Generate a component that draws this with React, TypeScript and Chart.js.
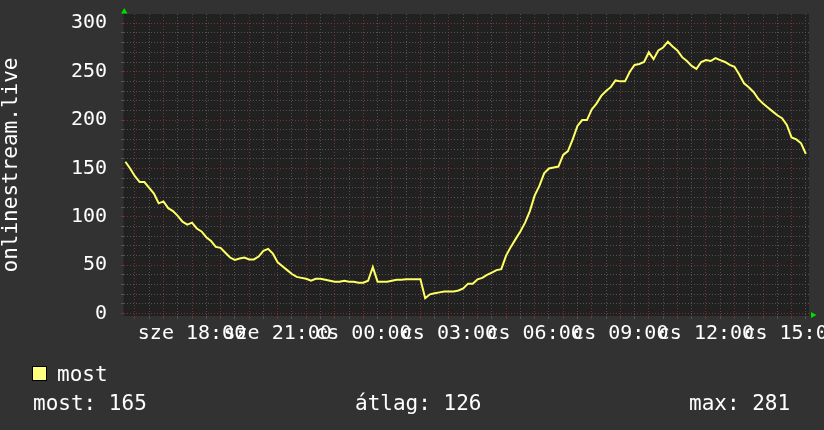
import React, { useEffect, useRef } from 'react';
import { Chart, registerables } from 'chart.js';

Chart.register(...registerables);

// --- data -------------------------------------------------------------
const SERIES_LABEL = 'most';
const Y_TITLE = 'onlinestream.live';
const START_HOUR = 15 + 40 / 60; // sze 15:40
const STEP_MINUTES = 10;

// viewers, one value every 10 minutes (sze 15:40 ... cs 15:30)
const viewers: number[] = [
  157, 150, 142, 136, 136, 130, 124, 114, // 15:40 - 16:50
  116, 109, 106, 101, 95, 92, // 17
  94, 88, 85, 79, 75, 69, // 18
  68, 63, 58, 55.5, 57, 58, // 19
  56, 56, 59, 65, 67, 62, // 20
  53, 49, 45, 41, 38, 37, // 21
  36, 34, 36, 36, 35, 34, // 22
  33, 33, 34, 33, 33, 32, // 23
  32, 34, 48, 33, 33, 33, // 00
  34, 35, 35, 35.5, 35.5, 35.5, // 01
  35.5, 16, 20, 21, 22, 23, // 02
  23, 23, 24, 26, 31, 31, // 03
  35.5, 37, 40, 42.5, 45, 46, // 04
  60, 69, 77, 85, 94, 106, // 05
  122, 132, 145, 150, 151, 152, // 06
  164, 168, 180, 194, 200, 200, // 07
  211, 217, 225, 230, 234, 241, // 08
  240, 240, 250, 257, 258, 260, // 09
  270, 263, 272, 275, 281, 276, // 10
  272, 265, 261, 256, 253, 260, // 11
  262, 261, 264, 262, 260, 257, // 12
  255, 247, 238, 234, 229, 222, // 13
  217, 213, 209, 205, 202, 195, // 14
  182, 180, 176, 165, // 15:00 - 15:30
];

const xTickHours = [18, 21, 24, 27, 30, 33, 36, 39];
const xTickLabels = ['sze 18:00', 'sze 21:00', 'cs 00:00', 'cs 03:00', 'cs 06:00', 'cs 09:00', 'cs 12:00', 'cs 15:00'];
const yTickValues = [0, 50, 100, 150, 200, 250, 300];

const summaryLabels = ['most', 'átlag', 'max'];
const summaryValues = [165, 126, 281];

// axis window
const X_MIN = 15.618;
const X_MAX = 39.61;
const Y_MIN = -2.4;
const Y_MAX = 309.6;

const FONT = 'DejaVu Sans Mono';
const GRID_MINOR = 'rgba(82,82,82,1)';
const GRID_MAJOR = 'rgba(118,52,52,1)';

export default function App() {
  const ref = useRef<HTMLCanvasElement>(null);

  useEffect(() => {
    const canvas = ref.current!;
    const data = viewers.map((v, i) => ({ x: START_HOUR + (i * STEP_MINUTES) / 60, y: v }));

    const rrdPlugin = {
      id: 'rrdDecor',
      beforeDraw(chart: any) {
        const { ctx, chartArea: a } = chart;
        ctx.save();
        ctx.fillStyle = '#323232';
        ctx.fillRect(0, 0, chart.width, chart.height);
        ctx.fillStyle = '#212121';
        ctx.fillRect(a.left, a.top, a.right - a.left, a.bottom - a.top);
        ctx.fillStyle = '#2a2a2a';
        ctx.fillRect(a.left - 1, a.top, 1, a.bottom - a.top);
        ctx.restore();
      },
      afterDraw(chart: any) {
        const { ctx, chartArea: a } = chart;
        ctx.save();
        // arrows
        ctx.fillStyle = '#00dd00';
        ctx.beginPath();
        ctx.moveTo(a.left - 3, a.top - 0.5);
        ctx.lineTo(a.left + 3.5, a.top - 0.5);
        ctx.lineTo(a.left + 0.25, a.top - 6);
        ctx.closePath();
        ctx.fill();
        ctx.beginPath();
        ctx.moveTo(a.right + 2, a.bottom - 4);
        ctx.lineTo(a.right + 2, a.bottom + 2);
        ctx.lineTo(a.right + 7.5, a.bottom - 1);
        ctx.closePath();
        ctx.fill();

        // legend
        ctx.fillStyle = '#ffff80';
        ctx.fillRect(32, 366, 15, 15);
        ctx.strokeStyle = '#000000';
        ctx.lineWidth = 1;
        ctx.strokeRect(32.5, 366.5, 14, 14);
        ctx.fillStyle = '#ffffff';
        ctx.font = `21px "${FONT}"`;
        ctx.textBaseline = 'alphabetic';
        ctx.textAlign = 'left';
        ctx.fillText(SERIES_LABEL, 57, 381);

        const xs = [33, 355, 689];
        summaryLabels.forEach((l, i) => {
          ctx.fillText(`${l}: ${summaryValues[i]}`, xs[i], 410);
        });
        ctx.restore();
      },
    };

    const chart = new Chart(canvas, {
      type: 'line',
      data: {
        datasets: [
          {
            label: SERIES_LABEL,
            data,
            borderColor: '#ffff66',
            borderWidth: 2,
            pointRadius: 0,
            tension: 0,
            fill: false,
          },
        ],
      },
      options: {
        animation: false,
        responsive: false,
        devicePixelRatio: 1,
        layout: { padding: { left: 0, right: 15, top: 14, bottom: 0 } },
        plugins: { legend: { display: false }, tooltip: { enabled: false } },
        scales: {
          x: {
            type: 'linear',
            min: X_MIN,
            max: X_MAX,
            afterBuildTicks: (s: any) => {
              const t = [];
              for (let h = 16; h <= 39.5; h += 0.5) t.push({ value: h });
              s.ticks = t;
            },
            afterFit: (s: any) => {
              s.height = 114;
              s.paddingLeft = 0;
              s.paddingRight = 0;
            },
            ticks: {
              autoSkip: false,
              maxRotation: 0,
              minRotation: 0,
              color: '#ffffff',
              padding: 3,
              font: { family: FONT, size: 20 },
              callback: (v: any) => {
                const i = xTickHours.indexOf(Number(v));
                return i >= 0 ? xTickLabels[i] : '';
              },
            },
            grid: {
              color: (c: any) => (Number.isInteger(c.tick?.value) ? GRID_MAJOR : GRID_MINOR),
              tickColor: (c: any) => (Number.isInteger(c.tick?.value) ? GRID_MAJOR : GRID_MINOR),
              tickLength: 3,
              lineWidth: 1,
            },
            border: { display: false, dash: [1, 2] },
          },
          y: {
            min: Y_MIN,
            max: Y_MAX,
            afterBuildTicks: (s: any) => {
              const t = [];
              for (let v = 0; v <= 300; v += 10) t.push({ value: v });
              s.ticks = t;
            },
            afterFit: (s: any) => {
              s.width = 124;
              s.paddingTop = 0;
              s.paddingBottom = 0;
            },
            ticks: {
              autoSkip: false,
              color: '#ffffff',
              padding: 14,
              font: { family: FONT, size: 20 },
              callback: (v: any) => (yTickValues.includes(Number(v)) ? String(v) : ''),
            },
            grid: {
              color: (c: any) => (c.tick && c.tick.value % 50 === 0 ? GRID_MAJOR : GRID_MINOR),
              tickColor: (c: any) => (c.tick && c.tick.value % 50 === 0 ? GRID_MAJOR : GRID_MINOR),
              tickLength: 3,
              lineWidth: 1,
            },
            border: { display: false, dash: [1, 2] },
            title: {
              display: true,
              text: Y_TITLE,
              color: '#ffffff',
              padding: { top: 1, bottom: 0 },
              font: { family: FONT, size: 21, lineHeight: 1 },
            },
          },
        },
      },
      plugins: [rrdPlugin],
    } as any);

    return () => chart.destroy();
  }, []);

  return (
    <canvas
      ref={ref}
      width={824}
      height={430}
      style={{ position: 'absolute', left: 0, top: 0, width: 824, height: 430 }}
    />
  );
}
